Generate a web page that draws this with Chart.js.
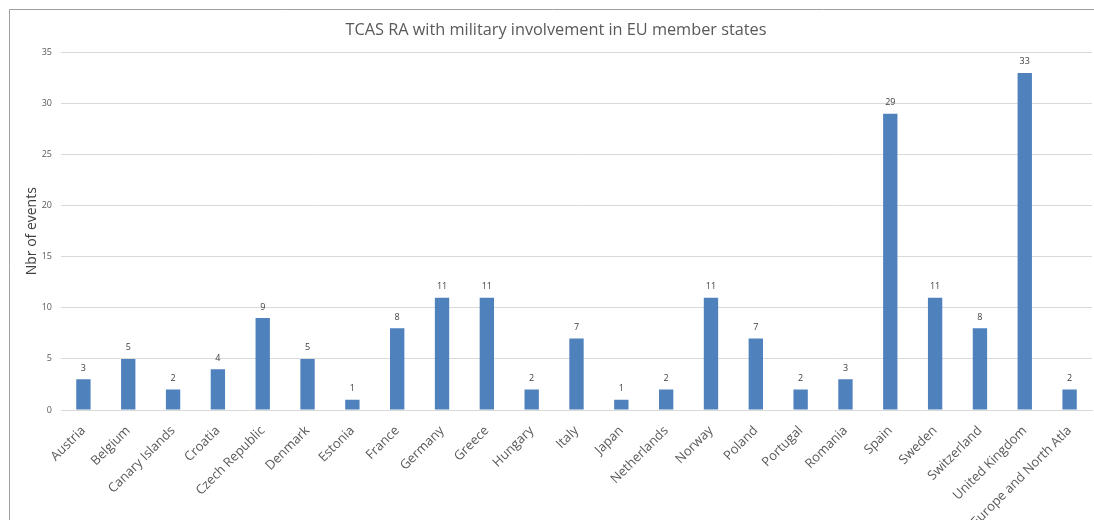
<!DOCTYPE html>
<html>
<head>
<meta charset="utf-8">
<script src="https://cdn.jsdelivr.net/npm/chart.js@4.4.1/dist/chart.umd.min.js"></script>
<style>
  html, body { margin: 0; padding: 0; background: #ffffff; }
  #wrap { width: 1094px; height: 520px; }
</style>
</head>
<body>
<div id="wrap"><canvas id="chart" width="1094" height="520"></canvas></div>
<script>
const categories = [
  'Austria', 'Belgium', 'Canary Islands', 'Croatia', 'Czech Republic', 'Denmark',
  'Estonia', 'France', 'Germany', 'Greece', 'Hungary', 'Italy', 'Japan',
  'Netherlands', 'Norway', 'Poland', 'Portugal', 'Romania', 'Spain', 'Sweden',
  'Switzerland', 'United Kingdom', 'Europe and North Atla'
];
const events = [3, 5, 2, 4, 9, 5, 1, 8, 11, 11, 2, 7, 1, 2, 11, 7, 2, 3, 29, 11, 8, 33, 2];
const yMin = 0;
const yMax = 35;
const yStep = 5;

const FONT = "'Open Sans', 'Noto Sans', sans-serif";
const GREY_TEXT = '#595959';

// White background plus the chart frame (top and left edges are inside the canvas)
const framePlugin = {
  id: 'frame',
  beforeDraw(chart) {
    const ctx = chart.ctx;
    ctx.save();
    ctx.fillStyle = '#ffffff';
    ctx.fillRect(0, 0, chart.width, chart.height);
    ctx.strokeStyle = '#a0a0a0';
    ctx.lineWidth = 1;
    ctx.beginPath();
    ctx.moveTo(9.5, chart.height + 5);
    ctx.lineTo(9.5, 9.5);
    ctx.lineTo(chart.width + 5, 9.5);
    ctx.stroke();
    ctx.restore();
  }
};

// Value printed above each bar
const valueLabels = {
  id: 'valueLabels',
  afterDatasetsDraw(chart) {
    const ctx = chart.ctx;
    const meta = chart.getDatasetMeta(0);
    const values = chart.data.datasets[0].data;
    ctx.save();
    ctx.font = "9px " + FONT;
    ctx.fillStyle = '#404040';
    ctx.textAlign = 'center';
    ctx.textBaseline = 'middle';
    meta.data.forEach((bar, i) => {
      ctx.fillText(String(values[i]), bar.x, bar.y - 11);
    });
    ctx.restore();
  }
};

new Chart(document.getElementById('chart'), {
  type: 'bar',
  data: {
    labels: categories,
    datasets: [{
      data: events,
      backgroundColor: '#4F81BD',
      borderWidth: 0,
      barPercentage: 0.32,
      categoryPercentage: 1.0
    }]
  },
  options: {
    responsive: false,
    animation: false,
    devicePixelRatio: 1,
    layout: { padding: { left: 20, right: 2, top: 0, bottom: 0 } },
    plugins: {
      legend: { display: false },
      tooltip: { enabled: false },
      title: {
        display: true,
        text: 'TCAS RA with military involvement in EU member states',
        color: GREY_TEXT,
        font: { family: FONT, size: 16.3, weight: 'normal', lineHeight: 1.2 },
        padding: { top: 20.2, bottom: 12.7 }
      }
    },
    scales: {
      x: {
        grid: { display: false, drawTicks: false },
        border: { display: true, color: '#d9d9d9', width: 1 },
        ticks: {
          color: GREY_TEXT,
          font: { family: FONT, size: 13 },
          minRotation: 45,
          maxRotation: 45,
          autoSkip: false,
          padding: 13
        },
        afterFit(scale) { scale.height = 110; }
      },
      y: {
        min: yMin,
        max: yMax,
        grid: { color: '#d9d9d9', lineWidth: 1, drawTicks: false },
        border: { display: false },
        ticks: {
          stepSize: yStep,
          color: GREY_TEXT,
          font: { family: FONT, size: 9 },
          padding: 9
        },
        title: {
          display: true,
          text: 'Nbr of events',
          color: '#404040',
          font: { family: FONT, size: 14 },
          padding: { top: 4, bottom: 0 }
        },
        afterFit(scale) { scale.width = 41; }
      }
    }
  },
  plugins: [framePlugin, valueLabels]
});
</script>
</body>
</html>
